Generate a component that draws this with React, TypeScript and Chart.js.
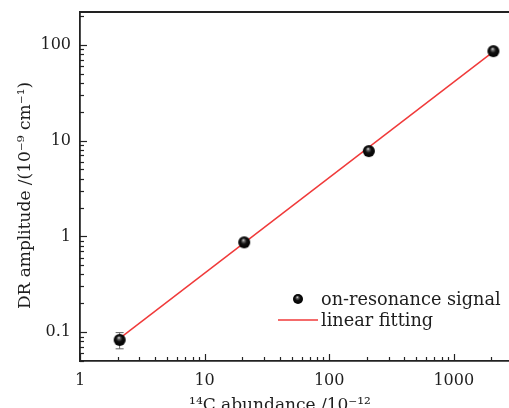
import React, { useEffect, useRef } from "react";
import { Chart, registerables } from "chart.js";

Chart.register(...registerables);

// ---- data ----
const abundance = [2.08, 20.8, 208, 2080];
const amplitude = [0.083, 0.867, 7.77, 85.8];
const amplitudeErr = [0.016, 0.04, 0.3, 3];
const fitAbundance = [2.08, 2080];
const fitAmplitude = [0.086, 85];
const xTickLabels = [1, 10, 100, 1000];
const yTickLabels = [0.1, 1, 10, 100];
const seriesLabels = ["on-resonance signal", "linear fitting"];
const xTitle = "¹⁴C abundance /10⁻¹²";
const yTitle = "DR amplitude /(10⁻⁹ cm⁻¹)";

const FONT = "'DejaVu Serif', serif";
const TEXT = "#1e1e1e";
const AXIS = "#222";
const RED = "#f03a3a";

function makeSphere(r: number): HTMLCanvasElement {
  const c = document.createElement("canvas");
  const s = Math.ceil(2 * r + 2);
  c.width = s;
  c.height = s;
  const g = c.getContext("2d")!;
  const cx = s / 2;
  const cy = s / 2;
  const grad = g.createRadialGradient(cx - r * 0.15, cy - r * 0.4, 0, cx, cy, r);
  grad.addColorStop(0, "#f4f4f4");
  grad.addColorStop(0.22, "#666");
  grad.addColorStop(0.5, "#111");
  grad.addColorStop(1, "#000");
  g.fillStyle = grad;
  g.beginPath();
  g.arc(cx, cy, r, 0, Math.PI * 2);
  g.fill();
  return c;
}

export default function App() {
  const ref = useRef<HTMLCanvasElement | null>(null);

  useEffect(() => {
    const canvas = ref.current!;
    const sphere = makeSphere(6);
    const legendSphere = makeSphere(5);

    const innerTicks = {
      id: "innerTicks",
      afterDraw(chart: any) {
        const { ctx, chartArea } = chart;
        const xs = chart.scales.x;
        const ys = chart.scales.y;
        ctx.save();
        ctx.strokeStyle = AXIS;
        // top frame
        ctx.beginPath();
        ctx.moveTo(chartArea.left, chartArea.top);
        ctx.lineTo(chartArea.right + 5, chartArea.top);
        ctx.lineWidth = 1.8;
        ctx.stroke();
        ctx.lineWidth = 1.2;
        const drawFor = (scale: any, horizontal: boolean) => {
          const lo = Math.floor(Math.log10(scale.min));
          const hi = Math.ceil(Math.log10(scale.max));
          for (let k = lo; k <= hi; k++) {
            for (let d = 1; d <= 9; d++) {
              const v = d * Math.pow(10, k);
              if (v < scale.min * 0.9999 || v > scale.max * 1.0001) continue;
              const p = Math.round(scale.getPixelForValue(v)) + 0.5;
              const len = d === 1 ? 7 : 4;
              ctx.beginPath();
              if (horizontal) {
                ctx.moveTo(p, chartArea.bottom);
                ctx.lineTo(p, chartArea.bottom - len);
              } else {
                ctx.moveTo(chartArea.left, p);
                ctx.lineTo(chartArea.left + len, p);
              }
              ctx.stroke();
            }
          }
        };
        drawFor(xs, true);
        drawFor(ys, false);
        ctx.restore();
      },
    };

    const errorBars = {
      id: "errorBars",
      beforeDatasetsDraw(chart: any) {
        const { ctx } = chart;
        const xs = chart.scales.x;
        const ys = chart.scales.y;
        ctx.save();
        ctx.strokeStyle = "#666";
        ctx.lineWidth = 1;
        abundance.forEach((a, i) => {
          const px = xs.getPixelForValue(a);
          const yTop = ys.getPixelForValue(amplitude[i] + amplitudeErr[i]);
          const yBot = ys.getPixelForValue(amplitude[i] - amplitudeErr[i]);
          ctx.beginPath();
          ctx.moveTo(px, yTop);
          ctx.lineTo(px, yBot);
          ctx.moveTo(px - 4, yTop);
          ctx.lineTo(px + 4, yTop);
          ctx.moveTo(px - 4, yBot);
          ctx.lineTo(px + 4, yBot);
          ctx.stroke();
        });
        ctx.restore();
      },
    };

    const legendAndTitles = {
      id: "legendAndTitles",
      afterDraw(chart: any) {
        const { ctx, chartArea } = chart;
        ctx.save();
        // legend
        const tx = chartArea.left + 241;
        const b1 = chartArea.bottom - 56;
        const b2 = chartArea.bottom - 35;
        ctx.font = `17.7px ${FONT}`;
        ctx.fillStyle = TEXT;
        ctx.textBaseline = "alphabetic";
        ctx.textAlign = "left";
        ctx.fillText(seriesLabels[0], tx, b1);
        ctx.fillText(seriesLabels[1], tx, b2);
        ctx.drawImage(legendSphere, tx - 23 - legendSphere.width / 2, b1 - 6 - legendSphere.height / 2);
        ctx.strokeStyle = RED;
        ctx.lineWidth = 1.5;
        ctx.beginPath();
        ctx.moveTo(tx - 43, b2 - 6);
        ctx.lineTo(tx - 3, b2 - 6);
        ctx.stroke();
        // x title
        ctx.font = `17px ${FONT}`;
        ctx.textAlign = "center";
        ctx.fillText(xTitle, chartArea.left + 200, 410);
        // y title
        ctx.translate(26, (chartArea.top + chartArea.bottom) / 2 + 9);
        ctx.rotate(-Math.PI / 2);
        ctx.textBaseline = "middle";
        ctx.fillText(yTitle, 0, 0);
        ctx.restore();
      },
    };

    const tickFont = { family: FONT, size: 16 };

    const chart = new Chart(canvas, {
      type: "scatter",
      data: {
        datasets: [
          {
            label: seriesLabels[0],
            data: abundance.map((a, i) => ({ x: a, y: amplitude[i] })),
            pointStyle: sphere as any,
            pointRadius: 6,
            showLine: false,
            order: 0,
          },
          {
            label: seriesLabels[1],
            data: fitAbundance.map((a, i) => ({ x: a, y: fitAmplitude[i] })),
            showLine: true,
            borderColor: RED,
            borderWidth: 1.5,
            pointRadius: 0,
            order: 1,
          } as any,
        ],
      },
      options: {
        animation: false,
        responsive: false,
        devicePixelRatio: 1,
        layout: { padding: { top: 12, right: 10, left: 0, bottom: 0 } },
        plugins: { legend: { display: false }, tooltip: { enabled: false } },
        scales: {
          x: {
            type: "logarithmic",
            min: 1,
            max: 3400,
            afterFit: (s: any) => {
              s.height = 47;
              s.paddingLeft = 0;
              s.paddingRight = 0;
            },
            afterBuildTicks: (s: any) => {
              s.ticks = xTickLabels.map((v) => ({ value: v }));
            },
            ticks: {
              callback: (v: any) => String(v),
              font: tickFont,
              color: TEXT,
              padding: 10,
              maxRotation: 0,
              autoSkip: false,
            },
            grid: { display: false, drawTicks: false },
            border: { display: true, color: AXIS, width: 1.8 },
          },
          y: {
            type: "logarithmic",
            min: 0.05,
            max: 220,
            afterFit: (s: any) => {
              s.width = 80;
              s.paddingTop = 0;
              s.paddingBottom = 0;
            },
            afterBuildTicks: (s: any) => {
              s.ticks = yTickLabels.map((v) => ({ value: v }));
            },
            ticks: {
              callback: (v: any) => String(v),
              font: tickFont,
              color: TEXT,
              padding: 9,
              autoSkip: false,
            },
            grid: { display: false, drawTicks: false },
            border: { display: true, color: AXIS, width: 1.8 },
          },
        } as any,
      },
      plugins: [errorBars, innerTicks, legendAndTitles],
    });
    return () => chart.destroy();
  }, []);

  return (
    <div
      style={{
        position: "absolute",
        left: 0,
        top: 0,
        width: 509,
        height: 408,
        overflow: "hidden",
        background: "#fff",
      }}
    >
      <canvas ref={ref} width={530} height={408} style={{ display: "block", width: 530, height: 408 }} />
    </div>
  );
}
